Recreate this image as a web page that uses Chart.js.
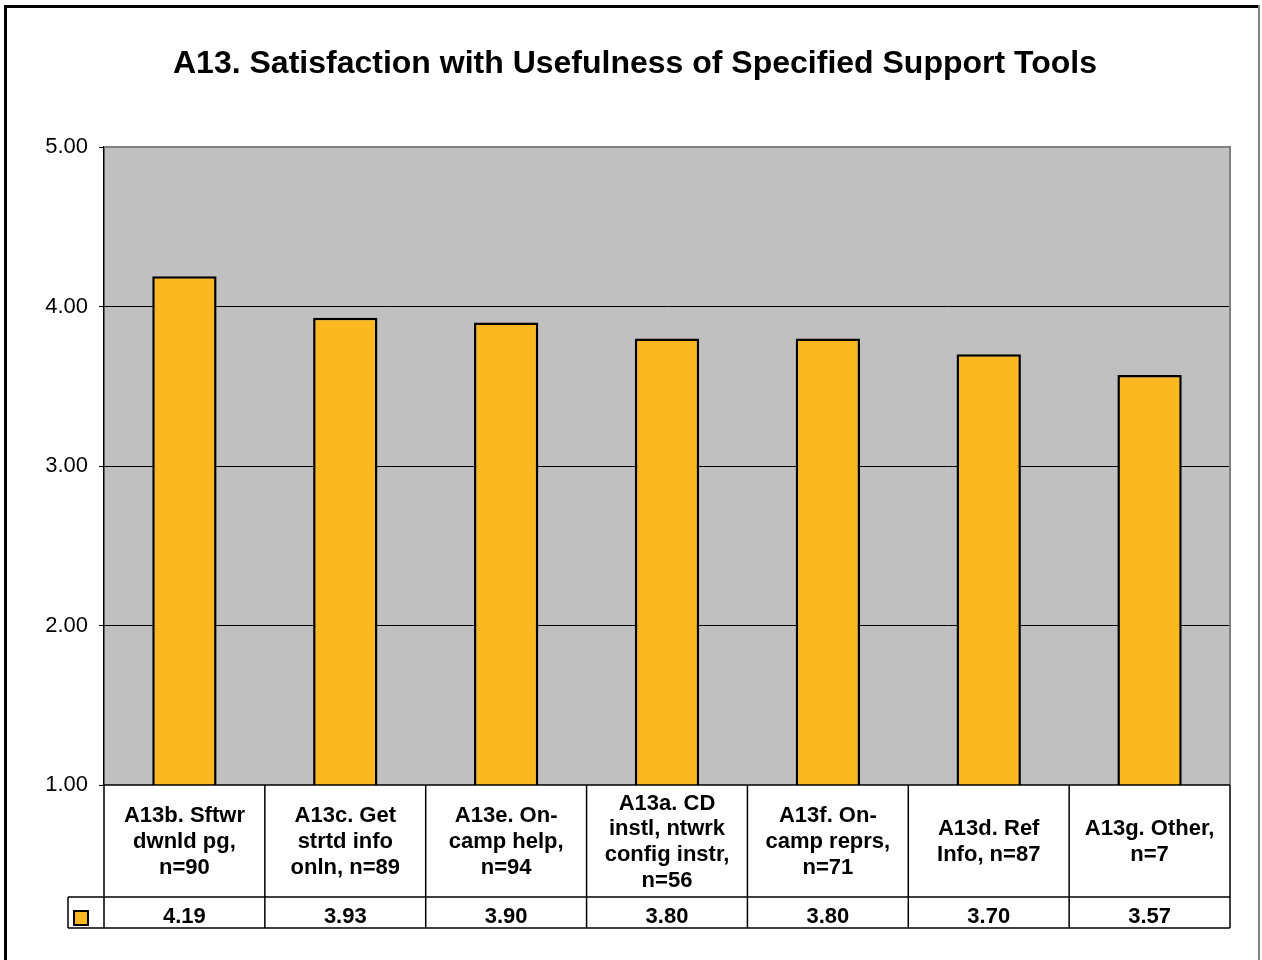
<!DOCTYPE html>
<html>
<head>
<meta charset="utf-8">
<title>A13 chart</title>
<script src="https://cdn.jsdelivr.net/npm/chart.js@4/dist/chart.umd.min.js"></script>
<style>
  html, body { margin: 0; padding: 0; background: #ffffff; }
  #wrap { width: 1262px; height: 960px; position: relative; }
</style>
</head>
<body>
<div id="wrap"><canvas id="canvas"></canvas></div>
<script>
// chart data
var title = "A13. Satisfaction with Usefulness of Specified Support Tools";
var categories = [
  ["A13b. Sftwr", "dwnld pg,", "n=90"],
  ["A13c. Get", "strtd info", "onln, n=89"],
  ["A13e. On-", "camp help,", "n=94"],
  ["A13a. CD", "instl, ntwrk", "config instr,", "n=56"],
  ["A13f. On-", "camp reprs,", "n=71"],
  ["A13d. Ref", "Info, n=87"],
  ["A13g. Other,", "n=7"]
];
var values = [4.19, 3.93, 3.90, 3.80, 3.80, 3.70, 3.57];
var yMin = 1, yMax = 5, yStep = 1;

var barColor = "#FBB820";
var plotColor = "#C0C0C0";
var font = "'Liberation Sans', Arial, sans-serif";

// background, outer frame and grey plot area
var backgroundPlugin = {
  id: "background",
  beforeDraw: function (chart) {
    var ctx = chart.ctx;
    var a = chart.chartArea;
    ctx.save();
    ctx.fillStyle = "#ffffff";
    ctx.fillRect(0, 0, chart.width, chart.height);
    ctx.fillStyle = "#000000";
    ctx.fillRect(4, 5, chart.width - 8, 3);   // top frame
    ctx.fillRect(4, 5, 3, chart.height - 5);  // left frame
    ctx.fillStyle = "#808080";
    ctx.fillRect(chart.width - 4, 5, 2, chart.height - 5); // right frame
    ctx.fillStyle = plotColor;
    ctx.fillRect(a.left, a.top, a.right - a.left, a.bottom - a.top);
    ctx.restore();
  }
};

// data table drawn under the plot area, like the Excel one
var tablePlugin = {
  id: "datatable",
  afterDraw: function (chart) {
    var ctx = chart.ctx;
    var a = chart.chartArea;
    var n = categories.length;
    var colW = (a.right - a.left) / n;
    var labelBottom = a.bottom + 112;
    var valueBottom = labelBottom + 31;
    var keyLeft = a.left - 36;

    ctx.save();
    // plot borders (grey top/right)
    ctx.fillStyle = "#808080";
    ctx.fillRect(a.left, a.top - 1, a.right - a.left + 1, 2);
    ctx.fillRect(a.right - 1, a.top - 1, 2, a.bottom - a.top + 1);

    ctx.strokeStyle = "#000000";
    ctx.lineWidth = 1.5;
    ctx.beginPath();
    ctx.moveTo(a.left, a.bottom); ctx.lineTo(a.right, a.bottom);
    ctx.moveTo(keyLeft, labelBottom); ctx.lineTo(a.right, labelBottom);
    ctx.moveTo(keyLeft, valueBottom); ctx.lineTo(a.right, valueBottom);
    ctx.moveTo(keyLeft, labelBottom); ctx.lineTo(keyLeft, valueBottom);
    for (var i = 0; i <= n; i++) {
      var x = a.left + i * colW;
      ctx.moveTo(x, a.bottom); ctx.lineTo(x, valueBottom);
    }
    ctx.stroke();

    // legend key
    ctx.fillStyle = barColor;
    ctx.fillRect(keyLeft + 6, labelBottom + 14, 14, 14);
    ctx.lineWidth = 2;
    ctx.strokeRect(keyLeft + 6, labelBottom + 14, 14, 14);

    ctx.fillStyle = "#000000";
    ctx.font = "bold 22px " + font;
    ctx.textAlign = "center";
    ctx.textBaseline = "middle";
    var lineH = 25.7;
    var rowMid = (a.bottom + labelBottom) / 2 + 1;
    for (var j = 0; j < n; j++) {
      var cx = a.left + (j + 0.5) * colW;
      var lines = categories[j];
      var y0 = rowMid - (lines.length - 1) * lineH / 2;
      for (var k = 0; k < lines.length; k++) {
        ctx.fillText(lines[k], cx, y0 + k * lineH);
      }
      ctx.fillText(values[j].toFixed(2), cx, (labelBottom + valueBottom) / 2 + 4);
    }
    ctx.restore();
  }
};

var canvas = document.getElementById("canvas");
var myChart = new Chart(canvas, {
  type: "bar",
  data: {
    labels: categories.map(function (c) { return c.join(" "); }),
    datasets: [{
      data: values,
      backgroundColor: barColor,
      borderColor: "#000000",
      borderWidth: 2.5,
      borderSkipped: "bottom",
      barPercentage: 0.4,
      categoryPercentage: 1.0
    }]
  },
  options: {
    responsive: true,
    maintainAspectRatio: false,
    animation: false,
    layout: { padding: { top: 8, right: 32, bottom: 175, left: 40 } },
    plugins: {
      legend: { display: false },
      tooltip: { enabled: false },
      title: {
        display: true,
        text: title,
        color: "#000000",
        font: { family: font, size: 32, weight: "bold" },
        padding: { top: 37, bottom: 63.6 }
      }
    },
    scales: {
      x: { display: false },
      y: {
        min: yMin,
        max: yMax,
        ticks: {
          stepSize: yStep,
          color: "#000000",
          font: { family: font, size: 22 },
          padding: 11,
          callback: function (v) { return v.toFixed(2); }
        },
        grid: {
          color: function (c) {
            return (c.tick && (c.tick.value === yMax || c.tick.value === yMin)) ? "rgba(0,0,0,0)" : "#000000";
          },
          lineWidth: 1,
          tickColor: "#000000",
          tickLength: 5
        },
        border: { display: true, color: "#000000", width: 1.5 },
        afterFit: function (scale) { scale.width = 64; }
      }
    }
  },
  plugins: [backgroundPlugin, tablePlugin]
});
</script>
</body>
</html>
